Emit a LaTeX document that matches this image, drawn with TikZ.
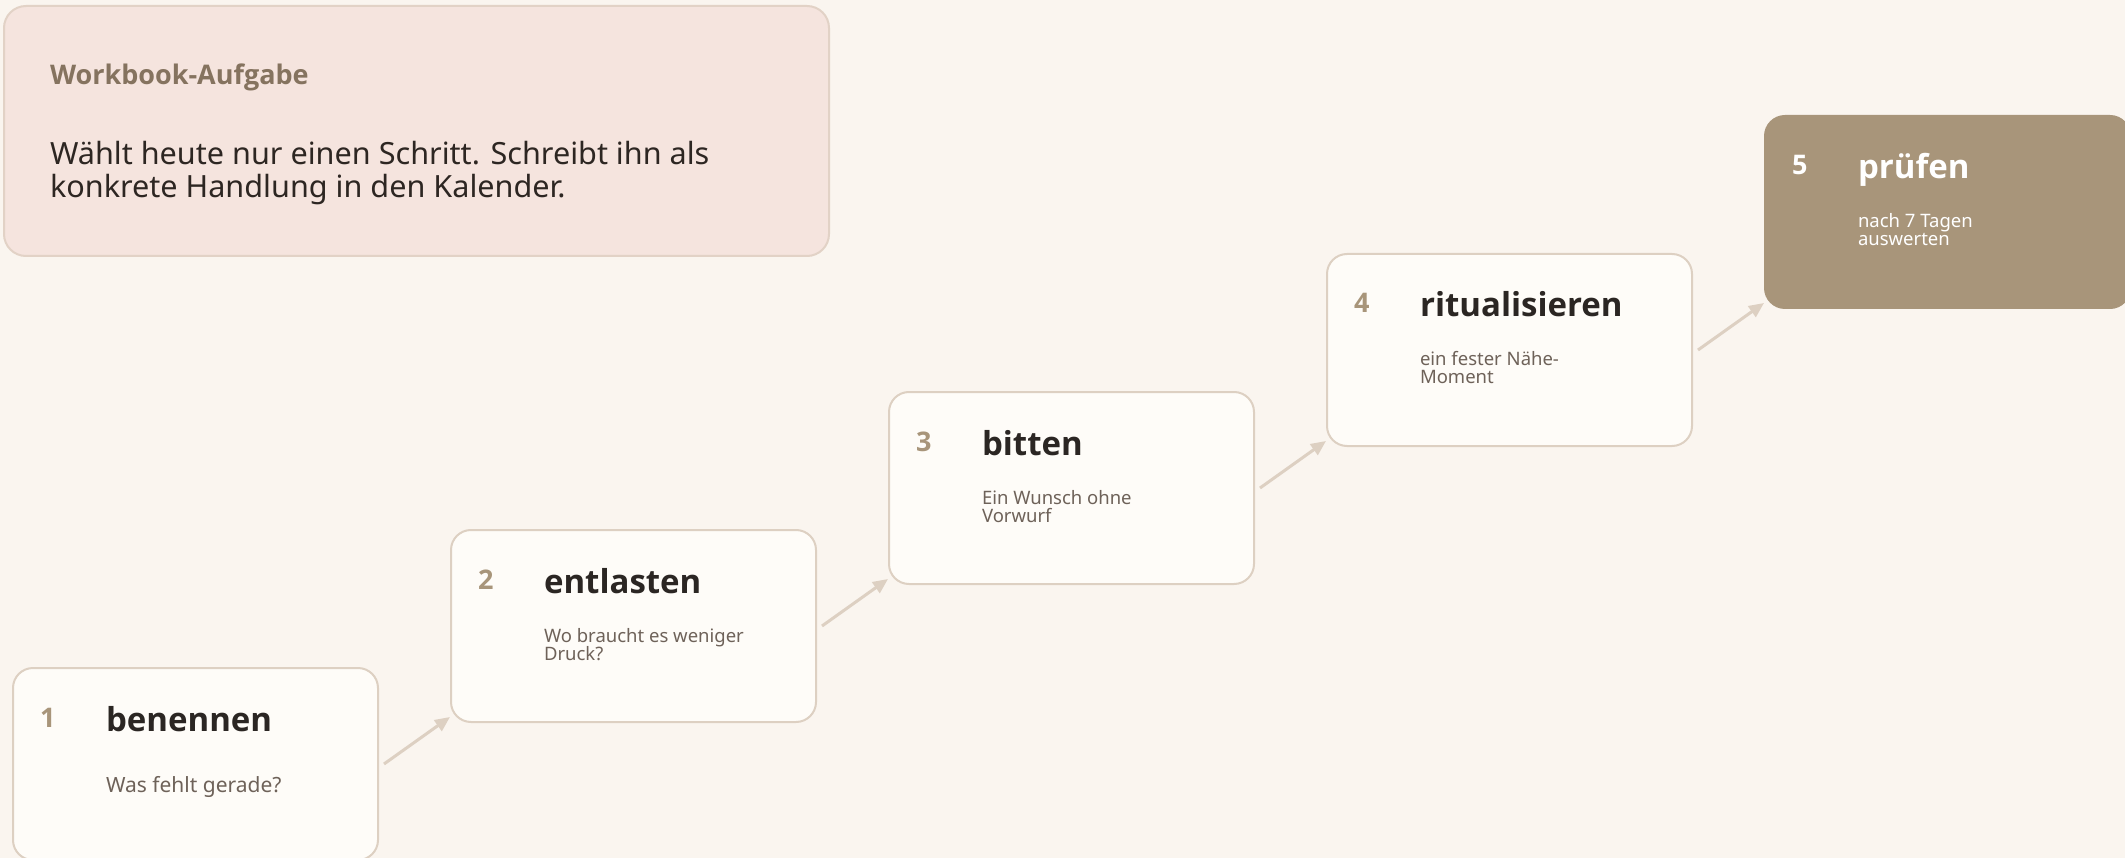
\documentclass[tikz,border=0pt]{standalone}
\usepackage{fontspec}
\setmainfont{Noto Sans}
\newfontfamily\headfont{Open Sans}
\usetikzlibrary{calc,arrows.meta}

\definecolor{pagebg}{HTML}{FAF5EF}
\definecolor{cardfill}{HTML}{FEFCF8}
\definecolor{cardline}{HTML}{DDD0C2}
\definecolor{notefill}{HTML}{F5E4DE}
\definecolor{noteline}{HTML}{E2D2C6}
\definecolor{accent}{HTML}{A8957A}
\definecolor{titleink}{HTML}{2B2623}
\definecolor{subink}{HTML}{6E6259}
\definecolor{labelink}{HTML}{85735F}
\definecolor{bodyink}{HTML}{2D2622}
\definecolor{paleink}{HTML}{FFFFFF}

\tikzset{
  card/.style={draw=cardline, line width=2pt, fill=cardfill, rounded corners=20pt,
    minimum width=365pt, minimum height=192pt, inner sep=0pt, anchor=north west},
  lastcard/.style={card, draw=accent, fill=accent},
  notebox/.style={draw=noteline, line width=2pt, fill=notefill, rounded corners=22pt,
    minimum width=825pt, minimum height=250pt, inner sep=0pt, anchor=north west},
  txt/.style={anchor=base west, inner sep=0pt, outer sep=0pt},
  num/.style={txt, font=\headfont\bfseries\fontsize{27}{30}\selectfont, text=accent},
  ttl/.style={txt, font=\headfont\bfseries\fontsize{33}{38}\selectfont, text=titleink},
  subone/.style={txt, font=\fontsize{21}{25}\selectfont, text=subink},
  subtwo/.style={txt, font=\fontsize{18.5}{20}\selectfont, text=subink},
  link/.style={draw=cardline, line width=3pt, -{Triangle[length=15pt,width=13pt]}},
}

\begin{document}
\begin{tikzpicture}[x=1pt,y=-1pt]
\useasboundingbox (0,0) rectangle (2125,858);
\clip (0,0) rectangle (2125,858);
\fill[pagebg] (0,0) rectangle (2125,858);

% task note
\node[notebox] (note) at (3,5) {};
\node[txt, font=\headfont\bfseries\fontsize{27}{30}\selectfont, text=labelink] (notehead)
  at ($(note.north west)+(47,80)$) {Workbook-Aufgabe};
\node[txt, font=\fontsize{30.6}{33}\selectfont, text=bodyink] (notel1)
  at ($(note.north west)+(47,160)$) {Wählt heute nur einen Schritt. Schreibt ihn als};
\node[txt, font=\fontsize{30.6}{33}\selectfont, text=bodyink] (notel2)
  at ($(note.north west)+(47,193)$) {konkrete Handlung in den Kalender.};

% step cards
\node[card] (b1) at (12,667) {};
\node[card] (b2) at (450,529) {};
\node[card] (b3) at (888,391) {};
\node[card] (b4) at (1326,253) {};
\node[lastcard] (b5) at (1764,115) {};

% step 1
\node[num] (n1) at ($(b1.north west)+(28,60)$) {1};
\node[ttl] (t1) at ($(b1.north west)+(94,64)$) {benennen};
\node[subone] (s1) at ($(b1.north west)+(94,125)$) {Was fehlt gerade?};

% step 2
\node[num] (n2) at ($(b2.north west)+(28,60)$) {2};
\node[ttl] (t2) at ($(b2.north west)+(94,64)$) {entlasten};
\node[subtwo] (s2a) at ($(b2.north west)+(94,113)$) {Wo braucht es weniger};
\node[subtwo] (s2b) at ($(b2.north west)+(94,131)$) {Druck?};

% step 3
\node[num] (n3) at ($(b3.north west)+(28,60)$) {3};
\node[ttl] (t3) at ($(b3.north west)+(94,64)$) {bitten};
\node[subtwo] (s3a) at ($(b3.north west)+(94,113)$) {Ein Wunsch ohne};
\node[subtwo] (s3b) at ($(b3.north west)+(94,131)$) {Vorwurf};

% step 4
\node[num] (n4) at ($(b4.north west)+(28,60)$) {4};
\node[ttl] (t4) at ($(b4.north west)+(94,64)$) {ritualisieren};
\node[subtwo] (s4a) at ($(b4.north west)+(94,113)$) {ein fester Nähe-};
\node[subtwo] (s4b) at ($(b4.north west)+(94,131)$) {Moment};

% step 5
\node[num, text=paleink] (n5) at ($(b5.north west)+(28,60)$) {5};
\node[ttl, text=paleink] (t5) at ($(b5.north west)+(94,64)$) {prüfen};
\node[subtwo, text=paleink] (s5a) at ($(b5.north west)+(94,113)$) {nach 7 Tagen};
\node[subtwo, text=paleink] (s5b) at ($(b5.north west)+(94,131)$) {auswerten};

% connectors
\draw[link] ($(b1.east)+(5,0)$) -- ($(b2.south west)+(0,-6)$);
\draw[link] ($(b2.east)+(5,0)$) -- ($(b3.south west)+(0,-6)$);
\draw[link] ($(b3.east)+(5,0)$) -- ($(b4.south west)+(0,-6)$);
\draw[link] ($(b4.east)+(5,0)$) -- ($(b5.south west)+(0,-6)$);
\end{tikzpicture}
\end{document}
